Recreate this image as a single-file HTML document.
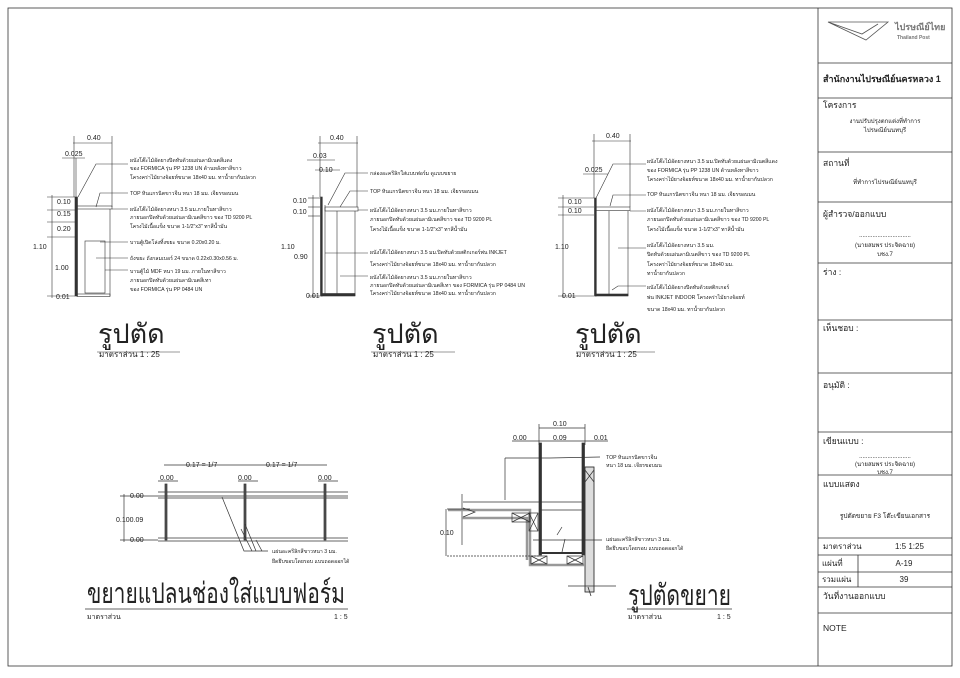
<!DOCTYPE html>
<html><head><meta charset="utf-8"><style>
html,body{margin:0;padding:0;background:#fff}
svg{display:block;font-family:"Liberation Sans","DejaVu Sans",sans-serif}
.t{font-size:5.2px;fill:#222}
.d{font-size:7px;fill:#222}
.tb{font-size:8.5px;fill:#222}
</style></head><body>
<svg width="960" height="678" viewBox="0 0 960 678" xmlns="http://www.w3.org/2000/svg">
<g stroke="#333" fill="none" stroke-width="0.8">
<rect x="8" y="8" width="944" height="658"/>
<line x1="818" y1="8" x2="818" y2="666"/>
<line x1="818" y1="63" x2="952" y2="63"/>
<line x1="818" y1="98" x2="952" y2="98"/>
<line x1="818" y1="152" x2="952" y2="152"/>
<line x1="818" y1="202" x2="952" y2="202"/>
<line x1="818" y1="263" x2="952" y2="263"/>
<line x1="818" y1="320" x2="952" y2="320"/>
<line x1="818" y1="373" x2="952" y2="373"/>
<line x1="818" y1="432" x2="952" y2="432"/>
<line x1="818" y1="475" x2="952" y2="475"/>
<line x1="818" y1="538" x2="952" y2="538"/>
<line x1="818" y1="555" x2="952" y2="555"/>
<line x1="818" y1="572" x2="952" y2="572"/>
<line x1="818" y1="587" x2="952" y2="587"/>
<line x1="818" y1="613" x2="952" y2="613"/>
<line x1="858" y1="555" x2="858" y2="587"/>
<path d="M828 22 L888 22 L866 40 Z M828 22 L862 34 L878 24" stroke="#555"/>
</g>
<g class="tb">
<text x="895" y="30" font-size="9" fill="#777" font-weight="bold">ไปรษณีย์ไทย</text>
<text x="897" y="39" font-size="5" fill="#777" font-weight="bold">Thailand Post</text>
<text x="823" y="82" font-weight="bold" font-size="9">สำนักงานไปรษณีย์นครหลวง 1</text>
<text x="823" y="108">โครงการ</text>
<text x="885" y="123" font-size="6" text-anchor="middle">งานปรับปรุงตกแต่งที่ทำการ</text>
<text x="885" y="132" font-size="6" text-anchor="middle">ไปรษณีย์นนทบุรี</text>
<text x="823" y="166">สถานที่</text>
<text x="885" y="184" font-size="6" text-anchor="middle">ที่ทำการไปรษณีย์นนทบุรี</text>
<text x="823" y="217">ผู้สำรวจ/ออกแบบ</text>
<text x="885" y="237" font-size="6" text-anchor="middle">...............................</text>
<text x="885" y="247" font-size="6" text-anchor="middle">(นายสมพร ประจิตฉาย)</text>
<text x="885" y="256" font-size="6" text-anchor="middle">บชง.7</text>
<text x="823" y="275">ร่าง :</text>
<text x="823" y="331">เห็นชอบ :</text>
<text x="823" y="388">อนุมัติ :</text>
<text x="823" y="444">เขียนแบบ :</text>
<text x="885" y="458" font-size="6" text-anchor="middle">...............................</text>
<text x="885" y="466" font-size="6" text-anchor="middle">(นายสมพร ประจิตฉาย)</text>
<text x="885" y="474" font-size="6" text-anchor="middle">บชง.7</text>
<text x="823" y="487">แบบแสดง</text>
<text x="885" y="518" font-size="6.5" text-anchor="middle">รูปตัดขยาย F3 โต๊ะเขียนเอกสาร</text>
<text x="823" y="549" font-size="8">มาตราส่วน</text>
<text x="895" y="549" font-size="8">1:5 1:25</text>
<text x="822" y="566" font-size="8">แผ่นที่</text>
<text x="904" y="566" font-size="8" text-anchor="middle">A-19</text>
<text x="822" y="582" font-size="8">รวมแผ่น</text>
<text x="904" y="582" font-size="8" text-anchor="middle">39</text>
<text x="823" y="599">วันที่งานออกแบบ</text>
<text x="823" y="631">NOTE</text>
</g>

<!-- Section 1 -->
<g stroke="#333" fill="none" stroke-width="0.6">
<line x1="73" y1="143" x2="112" y2="143"/><line x1="74" y1="136" x2="74" y2="197"/><line x1="112" y1="136" x2="112" y2="207"/>
<line x1="76" y1="158" x2="76" y2="197"/><line x1="62" y1="158" x2="85" y2="158"/>
<rect x="75" y="197" width="2.5" height="99" fill="#333"/>
<rect x="77" y="206" width="35" height="3"/>
<line x1="110" y1="209" x2="110" y2="296"/>
<rect x="77" y="294" width="33" height="2.5"/>
<rect x="85" y="241" width="20" height="52"/>
<line x1="52" y1="195" x2="52" y2="298"/>
<line x1="47" y1="197" x2="75" y2="197"/><line x1="47" y1="210" x2="75" y2="210"/><line x1="47" y1="222" x2="75" y2="222"/><line x1="47" y1="237" x2="75" y2="237"/><line x1="47" y1="296" x2="75" y2="296"/>
<path d="M78 197 L96 164 L128 164 M96 207 L100 193 L128 193 M112 209 L128 209 M100 242 L128 242 M96 258 L128 258 M105 270 L128 270"/>
<line x1="97" y1="352" x2="180" y2="352"/>
</g>
<g class="d"><text x="87" y="140">0.40</text><text x="65" y="156">0.025</text><text x="57" y="204">0.10</text><text x="57" y="216">0.15</text><text x="57" y="231">0.20</text><text x="33" y="249">1.10</text><text x="55" y="270">1.00</text><text x="56" y="299">0.01</text></g>
<g class="t"><text x="130" y="162">ผนังโต๊ะไม้อัดยางปิดทับด้วยแผ่นลามิเนตสีแดง</text><text x="130" y="170">ของ FORMICA รุ่น PP 1238 UN ด้านหลังทาสีขาว</text><text x="130" y="179">โครงคร่าไม้ยางจ้อยท์ขนาด 18x40 มม. ทาน้ำยากันปลวก</text><text x="130" y="195">TOP หินแกรนิตขาวจีน หนา 18 มม. เจียรขอบมน</text><text x="130" y="211">ผนังโต๊ะไม้อัดยางหนา 3.5 มม.ภายในทาสีขาว</text><text x="130" y="219">ภายนอกปิดทับด้วยแผ่นลามิเนตสีขาว ของ TD 9200 PL</text><text x="130" y="228">โครงไม้เนื้อแข็ง ขนาด 1-1/2"x3" ทาสีน้ำมัน</text><text x="130" y="244">บานตู้เปิดโล่งทิ้งขยะ ขนาด 0.20x0.20 ม.</text><text x="130" y="260">ถังขยะ ถังกลมเบอร์ 24 ขนาด 0.22x0.30x0.56 ม.</text><text x="130" y="273">บานตู้ไม้ MDF หนา 19 มม. ภายในทาสีขาว</text><text x="130" y="282">ภายนอกปิดทับด้วยแผ่นลามิเนตสีเทา</text><text x="130" y="291">ของ FORMICA รุ่น PP 0484 UN</text></g>
<text x="98" y="343" font-size="27" fill="#222">รูปตัด</text>
<text x="99" y="357" font-size="8" fill="#222">มาตราส่วน    1 : 25</text>

<!-- Section 2 -->
<g stroke="#333" fill="none" stroke-width="0.6">
<line x1="318" y1="143" x2="358" y2="143"/><line x1="320" y1="136" x2="320" y2="197"/><line x1="357" y1="136" x2="357" y2="207"/>
<line x1="307" y1="160" x2="335" y2="160"/><line x1="315" y1="170" x2="340" y2="170"/>
<rect x="320.5" y="197" width="1.8" height="99" fill="#333"/>
<line x1="325" y1="205" x2="325" y2="296"/>
<rect x="325" y="207" width="33" height="4"/>
<line x1="355" y1="211" x2="355" y2="296"/><line x1="337" y1="211" x2="337" y2="296"/>
<rect x="321" y="293.5" width="34" height="2.5" fill="#333"/>
<line x1="313" y1="195" x2="313" y2="298"/>
<line x1="308" y1="198" x2="320" y2="198"/><line x1="308" y1="207" x2="320" y2="207"/><line x1="308" y1="216" x2="320" y2="216"/><line x1="308" y1="296" x2="320" y2="296"/>
<path d="M328 205 L345 173 L368 173 M340 207 L350 191 L368 191 M358 210 L368 210 M325 253 L368 253 M340 276 L368 276"/>
<line x1="371" y1="352" x2="455" y2="352"/>
</g>
<g class="d"><text x="330" y="140">0.40</text><text x="313" y="158">0.03</text><text x="319" y="172">0.10</text><text x="293" y="203">0.10</text><text x="293" y="214">0.10</text><text x="281" y="249">1.10</text><text x="294" y="259">0.90</text><text x="306" y="298">0.01</text></g>
<g class="t"><text x="370" y="175">กล่องอะครีลิกใส่แบบฟอร์ม ดูแบบขยาย</text><text x="370" y="193">TOP หินแกรนิตขาวจีน หนา 18 มม. เจียรขอบมน</text><text x="370" y="212">ผนังโต๊ะไม้อัดยางหนา 3.5 มม.ภายในทาสีขาว</text><text x="370" y="221">ภายนอกปิดทับด้วยแผ่นลามิเนตสีขาว ของ TD 9200 PL</text><text x="370" y="231">โครงไม้เนื้อแข็ง ขนาด 1-1/2"x3" ทาสีน้ำมัน</text><text x="370" y="254">ผนังโต๊ะไม้อัดยางหนา 3.5 มม.ปิดทับด้วยสติกเกอร์พ่น INKJET</text><text x="370" y="266">โครงคร่าไม้ยางจ้อยท์ขนาด 18x40 มม. ทาน้ำยากันปลวก</text><text x="370" y="279">ผนังโต๊ะไม้อัดยางหนา 3.5 มม.ภายในทาสีขาว</text><text x="370" y="287">ภายนอกปิดทับด้วยแผ่นลามิเนตสีเทา ของ FORMICA รุ่น PP 0484 UN</text><text x="370" y="295">โครงคร่าไม้ยางจ้อยท์ขนาด 18x40 มม. ทาน้ำยากันปลวก</text></g>
<text x="372" y="343" font-size="27" fill="#222">รูปตัด</text>
<text x="373" y="357" font-size="8" fill="#222">มาตราส่วน    1 : 25</text>

<!-- Section 3 -->
<g stroke="#333" fill="none" stroke-width="0.6">
<line x1="592" y1="141" x2="631" y2="141"/><line x1="594" y1="134" x2="594" y2="198"/><line x1="630" y1="134" x2="630" y2="207"/>
<line x1="583" y1="174" x2="608" y2="174"/>
<rect x="594.5" y="198" width="1.8" height="98" fill="#333"/>
<rect x="596" y="207" width="34" height="3.5"/>
<line x1="628" y1="211" x2="628" y2="296"/><line x1="609" y1="211" x2="609" y2="296"/>
<rect x="595" y="294" width="33" height="2" fill="#333"/>
<line x1="563" y1="195" x2="563" y2="298"/>
<line x1="558" y1="198" x2="594" y2="198"/><line x1="558" y1="207" x2="594" y2="207"/><line x1="558" y1="215" x2="594" y2="215"/><line x1="558" y1="296" x2="594" y2="296"/>
<path d="M596 198 L613 164 L646 164 M610 206 L613 195 L646 195 M630 211 L646 211 M618 248 L646 248 M612 290 L618 286 L646 286"/>
<line x1="576" y1="352" x2="655" y2="352"/>
</g>
<g class="d"><text x="606" y="138">0.40</text><text x="585" y="172">0.025</text><text x="568" y="204">0.10</text><text x="568" y="213">0.10</text><text x="555" y="249">1.10</text><text x="562" y="298">0.01</text></g>
<g class="t"><text x="647" y="163">ผนังโต๊ะไม้อัดยางหนา 3.5 มม.ปิดทับด้วยแผ่นลามิเนตสีแดง</text><text x="647" y="172">ของ FORMICA รุ่น PP 1238 UN ด้านหลังทาสีขาว</text><text x="647" y="181">โครงคร่าไม้ยางจ้อยท์ขนาด 18x40 มม. ทาน้ำยากันปลวก</text><text x="647" y="196">TOP หินแกรนิตขาวจีน หนา 18 มม. เจียรขอบมน</text><text x="647" y="212">ผนังโต๊ะไม้อัดยางหนา 3.5 มม.ภายในทาสีขาว</text><text x="647" y="221">ภายนอกปิดทับด้วยแผ่นลามิเนตสีขาว ของ TD 9200 PL</text><text x="647" y="231">โครงไม้เนื้อแข็ง ขนาด 1-1/2"x3" ทาสีน้ำมัน</text><text x="647" y="247">ผนังโต๊ะไม้อัดยางหนา 3.5 มม.</text><text x="647" y="256">ปิดทับด้วยแผ่นลามิเนตสีขาว ของ TD 9200 PL</text><text x="647" y="266">โครงคร่าไม้ยางจ้อยท์ขนาด 18x40 มม.</text><text x="647" y="275">ทาน้ำยากันปลวก</text><text x="647" y="289">ผนังโต๊ะไม้อัดยางปิดทับด้วยสติกเกอร์</text><text x="647" y="299">พ่น INKJET INDOOR โครงคร่าไม้ยางจ้อยท์</text><text x="647" y="311">ขนาด 18x40 มม. ทาน้ำยากันปลวก</text></g>
<text x="575" y="343" font-size="27" fill="#222">รูปตัด</text>
<text x="576" y="357" font-size="8" fill="#222">มาตราส่วน    1 : 25</text>

<!-- Plan enlarge -->
<g stroke="#333" fill="none" stroke-width="0.7">
<line x1="158" y1="492" x2="348" y2="492"/><line x1="158" y1="496" x2="348" y2="496"/><line x1="158" y1="498" x2="348" y2="498"/>
<line x1="158" y1="538" x2="348" y2="538"/><line x1="158" y1="541" x2="348" y2="541"/>
<rect x="165" y="484" width="2" height="56" fill="#555"/><rect x="244" y="484" width="2" height="56" fill="#555"/><rect x="324" y="484" width="2" height="56" fill="#555"/>
<line x1="164" y1="465" x2="327" y2="465"/>
<line x1="158" y1="481" x2="178" y2="481"/><line x1="238" y1="481" x2="258" y2="481"/><line x1="318" y1="481" x2="338" y2="481"/>
<line x1="124" y1="494" x2="124" y2="542"/><line x1="120" y1="496" x2="158" y2="496"/><line x1="120" y1="540" x2="158" y2="540"/>
<path d="M222 497 L244 551 L268 551 M241 529 L252 551 M245 524 L256 551 M256 540 L262 551"/>
<line x1="85" y1="609" x2="348" y2="609"/>
</g>
<g class="d"><text x="186" y="467">0.17 = 1/7</text><text x="266" y="467">0.17 = 1/7</text><text x="160" y="480">0.00</text><text x="238" y="480">0.00</text><text x="318" y="480">0.00</text><text x="130" y="498">0.00</text><text x="116" y="522">0.100.09</text><text x="130" y="542">0.00</text></g>
<g class="t"><text x="272" y="553">แผ่นอะครีลิกสีขาวหนา 3 มม.</text><text x="272" y="563">ยึดยึบขอบโดยรอบ แบบถอดออกได้</text></g>
<text x="87" y="603" font-size="29" fill="#222" textLength="258" lengthAdjust="spacingAndGlyphs">ขยายแปลนช่องใส่แบบฟอร์ม</text>
<text x="87" y="619" font-size="7" fill="#222">มาตราส่วน</text><text x="334" y="619" font-size="7" fill="#222">1 : 5</text>

<!-- Section enlarge -->
<g stroke="#333" fill="none" stroke-width="0.7">
<line x1="539" y1="428" x2="585" y2="428"/><line x1="539" y1="424" x2="539" y2="445"/><line x1="585" y1="424" x2="585" y2="445"/>
<line x1="512" y1="441" x2="608" y2="441"/>
<rect x="539" y="443" width="2.5" height="112" fill="#333"/><rect x="582" y="443" width="2.5" height="112" fill="#333"/>
<rect x="585" y="467" width="9" height="125" fill="#ddd"/><rect x="585" y="467" width="9" height="125"/>
<path d="M585 470 l9 12 M594 470 l-9 12"/>
<line x1="463" y1="502" x2="583" y2="502"/><line x1="462" y1="494" x2="462" y2="545"/>
<line x1="541" y1="510" x2="583" y2="510"/>
<path d="M448 510 L530 510 L530 565 L585 565 M462 518 L527 518 L527 560" stroke="#999" stroke-width="2.5"/>
<rect x="512" y="513" width="18" height="9"/><path d="M512 513 l18 9 M530 513 l-18 9"/>
<rect x="529" y="513" width="9" height="18"/><path d="M529 513 l9 18 M538 513 l-9 18"/>
<rect x="531" y="556" width="16" height="8"/><path d="M531 556 l16 8 M547 556 l-16 8"/>
<rect x="567" y="556" width="16" height="8"/><path d="M567 556 l16 8 M583 556 l-16 8"/>
<line x1="541" y1="553" x2="583" y2="553" stroke-width="2"/>
<line x1="446" y1="509" x2="446" y2="556"/><line x1="447" y1="509" x2="470" y2="509"/><line x1="447" y1="556" x2="540" y2="556" stroke-dasharray="2 1"/>
<path d="M463 508 L475 512 L463 517"/>
<path d="M505 458 L550 458 L600 457 M505 458 L505 500 M533 540 L575 540 L602 540 M565 539 L562 552 M557 535 L562 527"/>
<path d="M568 586 L616 586 M588 587 L591 596" stroke-width="0.8"/>
<line x1="627" y1="609" x2="732" y2="609"/>
</g>
<g class="d"><text x="553" y="426">0.10</text><text x="513" y="440">0.00</text><text x="553" y="440">0.09</text><text x="594" y="440">0.01</text><text x="440" y="535">0.10</text></g>
<g class="t"><text x="606" y="459">TOP หินแกรนิตขาวจีน</text><text x="606" y="467">หนา 18 มม. เจียรขอบมน</text><text x="606" y="541">แผ่นอะครีลิกสีขาวหนา 3 มม.</text><text x="606" y="550">ยึดยึบขอบโดยรอบ แบบถอดออกได้</text></g>
<text x="628" y="605" font-size="29" fill="#222" textLength="103" lengthAdjust="spacingAndGlyphs">รูปตัดขยาย</text>
<text x="628" y="619" font-size="7" fill="#222">มาตราส่วน</text><text x="717" y="619" font-size="7" fill="#222">1 : 5</text>
</svg>
</body></html>
